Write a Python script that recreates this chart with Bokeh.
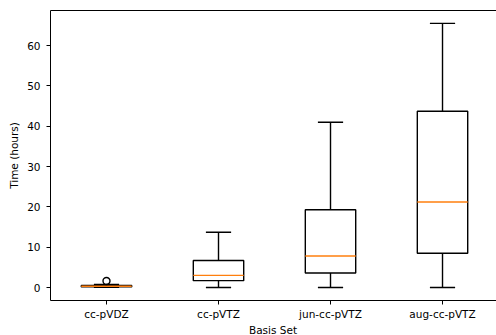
from bokeh.plotting import figure
from bokeh.models import Range1d, FixedTicker, LinearAxis, Div
from bokeh.layouts import column
from bokeh.embed import file_html
from bokeh.resources import INLINE

categories = ["cc-pVDZ", "cc-pVTZ", "jun-cc-pVTZ", "aug-cc-pVTZ"]
whisker_low = [0.05, 0.0, 0.0, 0.0]
q1 = [0.15, 1.7, 3.6, 8.5]
median = [0.3, 3.0, 7.8, 21.2]
q3 = [0.5, 6.7, 19.3, 43.7]
whisker_high = [0.75, 13.7, 41.0, 65.5]
outlier_cat = [1]
outlier_val = [1.6]
y_ticks = [0, 10, 20, 30, 40, 50, 60]
x_title = "Basis Set"
y_title = "Time (hours)"

positions = [i + 1 for i in range(len(categories))]
box_w = 0.45
cap_w = box_w / 2

FONT = "DejaVu Sans"
X0, X1 = 0.5, 4.482
Y0, Y1 = -3.22, 68.7
p = figure(width=496, height=323, output_backend="svg", toolbar_location=None,
           x_range=Range1d(X0, X1), y_range=Range1d(Y0, Y1),
           min_border_left=50, min_border_top=10, min_border_right=0,
           min_border_bottom=23)
p.outline_line_color = None
p.grid.grid_line_color = None
p.background_fill_color = "white"

lw = 1.4
# whiskers
p.segment(positions, whisker_low, positions, q1, line_color="black", line_width=lw)
p.segment(positions, q3, positions, whisker_high, line_color="black", line_width=lw)
# caps
p.segment([x - cap_w / 2 for x in positions], whisker_low,
          [x + cap_w / 2 for x in positions], whisker_low, line_color="black", line_width=lw)
p.segment([x - cap_w / 2 for x in positions], whisker_high,
          [x + cap_w / 2 for x in positions], whisker_high, line_color="black", line_width=lw)
# boxes
p.quad(left=[x - box_w / 2 for x in positions], right=[x + box_w / 2 for x in positions],
       bottom=q1, top=q3, fill_color=None, line_color="black", line_width=lw)
# medians
p.segment([x - box_w / 2 for x in positions], median,
          [x + box_w / 2 for x in positions], median, line_color="#ff7f0e", line_width=lw)
# outliers
p.scatter(outlier_cat, outlier_val, marker="circle", size=7, fill_color=None,
          line_color="black", line_width=lw)

for ax in (p.xaxis[0], p.yaxis[0]):
    ax.axis_line_color = "black"
    ax.axis_line_width = 1
    ax.major_tick_line_color = "black"
    ax.major_tick_out = 4
    ax.major_tick_in = 0
    ax.minor_tick_line_color = None
    ax.major_label_text_font = FONT
    ax.major_label_text_font_size = "10.5px"
    ax.major_label_text_color = "black"
    ax.axis_label_text_font = FONT
    ax.axis_label_text_font_size = "10.5px"
    ax.axis_label_text_font_style = "normal"
    ax.axis_label_text_color = "black"

p.xaxis.ticker = FixedTicker(ticks=positions)
p.xaxis.major_label_overrides = {pos: c for pos, c in zip(positions, categories)}
p.xaxis.major_label_standoff = 3
p.yaxis.ticker = FixedTicker(ticks=y_ticks)
p.yaxis.axis_label = y_title
p.yaxis.major_label_standoff = 6
p.yaxis.axis_label_standoff = 4

top = LinearAxis(ticker=FixedTicker(ticks=[]), axis_line_color="black",
                 major_tick_out=0, major_tick_in=0, minor_tick_out=0, minor_tick_in=0,
                 major_label_text_font_size="0px")
p.add_layout(top, "above")

title_div = Div(text=x_title, width=446, height=12, margin=(0, 0, 0, 50),
                styles={"text-align": "center", "font-family": FONT,
                        "font-size": "10.5px", "line-height": "15px",
                        "color": "black", "white-space": "nowrap"})

layout = column(p, title_div, spacing=0)

open("out.html", "w").write(file_html(layout, INLINE))
